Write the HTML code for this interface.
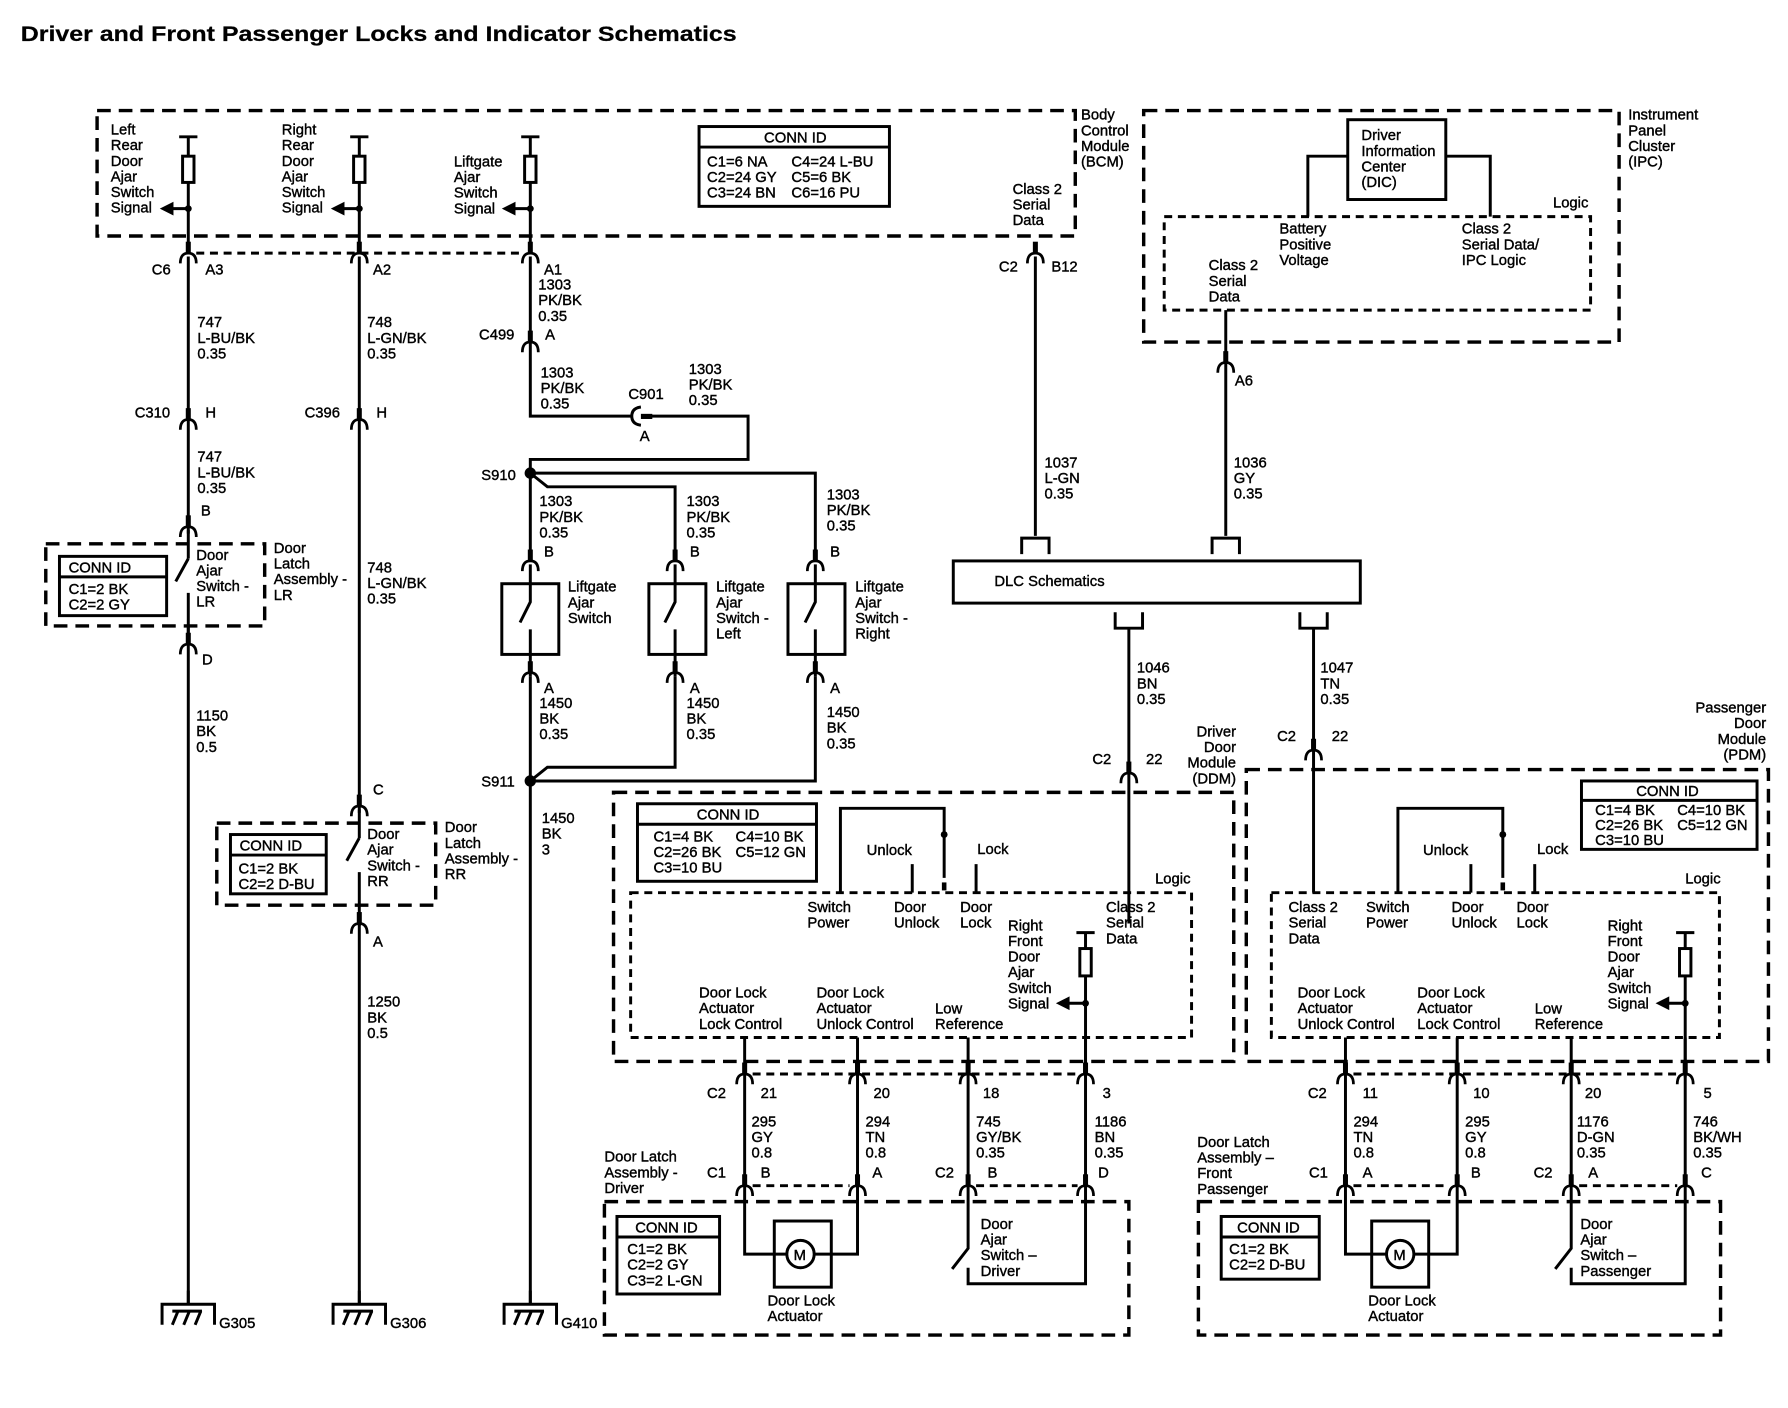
<!DOCTYPE html>
<html><head><meta charset="utf-8">
<style>
html,body{margin:0;padding:0;background:#fff;}
svg{display:block;}
text{font-family:"Liberation Sans",sans-serif;font-size:13px;fill:#000;stroke:#000;stroke-width:0.35;}
.t{font-size:19px;font-weight:bold;stroke-width:0.2;}
.w{fill:none;stroke:#000;stroke-width:2.6;}
.d{fill:none;stroke:#000;stroke-width:3;stroke-dasharray:12 7;}
.dd{fill:none;stroke:#000;stroke-width:2.6;stroke-dasharray:7 5;}
.b{fill:#fff;stroke:#000;stroke-width:2.6;}
</style></head><body>
<svg width="1788" height="1408" viewBox="0 0 1568 1235" xmlns="http://www.w3.org/2000/svg">
<defs>
<g id="cn"><path d="M-7,6 Q-7,-3 0,-3 Q7,-3 7,6" fill="none" stroke="#000" stroke-width="2.4"/><rect x="-2.2" y="-13" width="4.4" height="11" fill="#000"/></g>
<g id="gnd"><path d="M-23,20 V2 H23 V20" fill="none" stroke="#000" stroke-width="2.6"/><path d="M0,-10 V2 M-14,20 L-9,8 M-4,20 L1,8 M6,20 L11,8 M-14,8 H12" fill="none" stroke="#000" stroke-width="2.6"/></g>
<g id="bk"><path d="M-12,14 V0 H12 V14" fill="none" stroke="#000" stroke-width="2.6"/></g>
<g id="bku"><path d="M-12,-6 V8 H12 V-6" fill="none" stroke="#000" stroke-width="2.6"/></g>
</defs>
<text class="t" x="18" y="36" textLength="628" lengthAdjust="spacingAndGlyphs">Driver and Front Passenger Locks and Indicator Schematics</text>

<!-- BCM -->
<rect class="d" x="85" y="97" width="858" height="110"/>
<text x="948" y="105"><tspan x="948" dy="0">Body</tspan><tspan x="948" dy="13.7">Control</tspan><tspan x="948" dy="13.7">Module</tspan><tspan x="948" dy="13.7">(BCM)</tspan></text>
<g class="w">
<path d="M157,120 H173 M165,120 V137 M165,160 V222"/>
<path d="M307,120 H323 M315,120 V137 M315,160 V222"/>
<path d="M457,120 H473 M465,120 V137 M465,160 V222"/>
<path d="M165,183 H150 M315,183 H300 M465,183 H450"/>
</g>
<rect class="b" x="160" y="137" width="10" height="23"/><rect class="b" x="310" y="137" width="10" height="23"/><rect class="b" x="460" y="137" width="10" height="23"/>
<path d="M140,183 L152,177 V189Z M290,183 L302,177 V189Z M440,183 L452,177 V189Z"/>
<circle cx="165" cy="183" r="3"/><circle cx="315" cy="183" r="3"/><circle cx="465" cy="183" r="3"/>
<text x="97" y="118"><tspan x="97">Left</tspan><tspan x="97" dy="13.7">Rear</tspan><tspan x="97" dy="13.7">Door</tspan><tspan x="97" dy="13.7">Ajar</tspan><tspan x="97" dy="13.7">Switch</tspan><tspan x="97" dy="13.7">Signal</tspan></text>
<text x="247" y="118"><tspan x="247">Right</tspan><tspan x="247" dy="13.7">Rear</tspan><tspan x="247" dy="13.7">Door</tspan><tspan x="247" dy="13.7">Ajar</tspan><tspan x="247" dy="13.7">Switch</tspan><tspan x="247" dy="13.7">Signal</tspan></text>
<text x="398" y="146"><tspan x="398">Liftgate</tspan><tspan x="398" dy="13.7">Ajar</tspan><tspan x="398" dy="13.7">Switch</tspan><tspan x="398" dy="13.7">Signal</tspan></text>
<rect class="b" x="613" y="111" width="167" height="70"/><path class="w" d="M613,129 H780"/>
<text x="670" y="125">CONN ID</text>
<text x="620" y="146"><tspan x="620">C1=6 NA</tspan><tspan x="620" dy="13.7">C2=24 GY</tspan><tspan x="620" dy="13.7">C3=24 BN</tspan></text>
<text x="694" y="146"><tspan x="694">C4=24 L-BU</tspan><tspan x="694" dy="13.7">C5=6 BK</tspan><tspan x="694" dy="13.7">C6=16 PU</tspan></text>
<text x="888" y="170"><tspan x="888">Class 2</tspan><tspan x="888" dy="13.7">Serial</tspan><tspan x="888" dy="13.7">Data</tspan></text>

<!-- C6 -->
<path class="dd" d="M172,222 H458"/>
<use href="#cn" x="165" y="225"/><use href="#cn" x="315" y="225"/><use href="#cn" x="465" y="225"/><use href="#cn" x="908" y="225"/>
<text x="133" y="241">C6</text><text x="180" y="241">A3</text><text x="327" y="241">A2</text><text x="477" y="241">A1</text>
<text x="876" y="238">C2</text><text x="922" y="238">B12</text>

<!-- wire 165 -->
<path class="w" d="M165,225 V1144"/>
<text x="173" y="287"><tspan x="173">747</tspan><tspan x="173" dy="13.7">L-BU/BK</tspan><tspan x="173" dy="13.7">0.35</tspan></text>
<use href="#cn" x="165" y="371"/><text x="118" y="366">C310</text><text x="180" y="366">H</text>
<text x="173" y="405"><tspan x="173">747</tspan><tspan x="173" dy="13.7">L-BU/BK</tspan><tspan x="173" dy="13.7">0.35</tspan></text>
<text x="176" y="452">B</text>
<rect x="158" y="468" width="14" height="80" fill="#fff"/>
<use href="#cn" x="165" y="465"/>
<path class="w" d="M165,465 V490 M165,490 L154,510 M165,520 V565"/>
<rect class="d" x="40" y="477" width="192" height="72"/>
<rect class="b" x="52" y="488" width="94" height="52"/><path class="w" d="M52,506 H146"/>
<text x="60" y="502">CONN ID</text>
<text x="60" y="521"><tspan x="60">C1=2 BK</tspan><tspan x="60" dy="13.7">C2=2 GY</tspan></text>
<text x="172" y="491"><tspan x="172">Door</tspan><tspan x="172" dy="13.7">Ajar</tspan><tspan x="172" dy="13.7">Switch -</tspan><tspan x="172" dy="13.7">LR</tspan></text>
<text x="240" y="485"><tspan x="240">Door</tspan><tspan x="240" dy="13.7">Latch</tspan><tspan x="240" dy="13.7">Assembly -</tspan><tspan x="240" dy="13.7">LR</tspan></text>
<use href="#cn" x="165" y="568"/><text x="177" y="583">D</text>
<text x="172" y="632"><tspan x="172">1150</tspan><tspan x="172" dy="13.7">BK</tspan><tspan x="172" dy="13.7">0.5</tspan></text>
<use href="#gnd" x="165" y="1142"/><text x="192" y="1165">G305</text>

<!-- wire 315 -->
<path class="w" d="M315,225 V1144"/>
<text x="322" y="287"><tspan x="322">748</tspan><tspan x="322" dy="13.7">L-GN/BK</tspan><tspan x="322" dy="13.7">0.35</tspan></text>
<use href="#cn" x="315" y="371"/><text x="267" y="366">C396</text><text x="330" y="366">H</text>
<text x="322" y="502"><tspan x="322">748</tspan><tspan x="322" dy="13.7">L-GN/BK</tspan><tspan x="322" dy="13.7">0.35</tspan></text>
<text x="327" y="697">C</text>
<rect x="308" y="713" width="14" height="90" fill="#fff"/>
<use href="#cn" x="315" y="710"/>
<path class="w" d="M315,710 V735 M315,735 L304,755 M315,765 V812"/>
<rect class="d" x="190" y="722" width="192" height="72"/>
<rect class="b" x="202" y="732" width="84" height="52"/><path class="w" d="M202,750 H286"/>
<text x="210" y="746">CONN ID</text>
<text x="209" y="766"><tspan x="209">C1=2 BK</tspan><tspan x="209" dy="13.7">C2=2 D-BU</tspan></text>
<text x="322" y="736"><tspan x="322">Door</tspan><tspan x="322" dy="13.7">Ajar</tspan><tspan x="322" dy="13.7">Switch -</tspan><tspan x="322" dy="13.7">RR</tspan></text>
<text x="390" y="730"><tspan x="390">Door</tspan><tspan x="390" dy="13.7">Latch</tspan><tspan x="390" dy="13.7">Assembly -</tspan><tspan x="390" dy="13.7">RR</tspan></text>
<use href="#cn" x="315" y="813"/><text x="327" y="830">A</text>
<text x="322" y="883"><tspan x="322">1250</tspan><tspan x="322" dy="13.7">BK</tspan><tspan x="322" dy="13.7">0.5</tspan></text>
<use href="#gnd" x="315" y="1142"/><text x="342" y="1165">G306</text>

<!-- wire 465 -->
<text x="472" y="254"><tspan x="472">1303</tspan><tspan x="472" dy="13.7">PK/BK</tspan><tspan x="472" dy="13.7">0.35</tspan></text>
<path class="w" d="M465,225 V365 H553 M570,365 H656 V403 H465 V415 M465,415 H715 V492 M465,415 L480,427 H592 V492 M465,415 V492"/>
<use href="#cn" x="465" y="303"/><text x="420" y="298">C499</text><text x="478" y="298">A</text>
<text x="474" y="331"><tspan x="474">1303</tspan><tspan x="474" dy="13.7">PK/BK</tspan><tspan x="474" dy="13.7">0.35</tspan></text>
<path d="M562,357 Q554,358 554,365 Q554,372 562,373" fill="none" stroke="#000" stroke-width="2.6"/><rect x="562" y="363" width="10" height="4.5"/>
<text x="551" y="350">C901</text><text x="561" y="387">A</text>
<text x="604" y="328"><tspan x="604">1303</tspan><tspan x="604" dy="13.7">PK/BK</tspan><tspan x="604" dy="13.7">0.35</tspan></text>
<circle cx="465" cy="415" r="5"/><text x="422" y="421">S910</text>
<text x="473" y="444"><tspan x="473">1303</tspan><tspan x="473" dy="13.7">PK/BK</tspan><tspan x="473" dy="13.7">0.35</tspan></text>
<text x="602" y="444"><tspan x="602">1303</tspan><tspan x="602" dy="13.7">PK/BK</tspan><tspan x="602" dy="13.7">0.35</tspan></text>
<text x="725" y="438"><tspan x="725">1303</tspan><tspan x="725" dy="13.7">PK/BK</tspan><tspan x="725" dy="13.7">0.35</tspan></text>
<use href="#cn" x="465" y="495"/><use href="#cn" x="592" y="495"/><use href="#cn" x="715" y="495"/>
<text x="477" y="488">B</text><text x="605" y="488">B</text><text x="728" y="488">B</text>
<rect class="b" x="440" y="512" width="50" height="62"/><rect class="b" x="569" y="512" width="50" height="62"/><rect class="b" x="691" y="512" width="50" height="62"/>
<path class="w" d="M465,495 V528 L456,546 M465,552 V593 M592,495 V528 L583,546 M592,552 V593 M715,495 V528 L706,546 M715,552 V593"/>
<text x="498" y="519"><tspan x="498">Liftgate</tspan><tspan x="498" dy="13.7">Ajar</tspan><tspan x="498" dy="13.7">Switch</tspan></text>
<text x="628" y="519"><tspan x="628">Liftgate</tspan><tspan x="628" dy="13.7">Ajar</tspan><tspan x="628" dy="13.7">Switch -</tspan><tspan x="628" dy="13.7">Left</tspan></text>
<text x="750" y="519"><tspan x="750">Liftgate</tspan><tspan x="750" dy="13.7">Ajar</tspan><tspan x="750" dy="13.7">Switch -</tspan><tspan x="750" dy="13.7">Right</tspan></text>
<use href="#cn" x="465" y="593"/><use href="#cn" x="592" y="593"/><use href="#cn" x="715" y="593"/>
<text x="477" y="608">A</text><text x="605" y="608">A</text><text x="728" y="608">A</text>
<text x="473" y="621"><tspan x="473">1450</tspan><tspan x="473" dy="13.7">BK</tspan><tspan x="473" dy="13.7">0.35</tspan></text>
<text x="602" y="621"><tspan x="602">1450</tspan><tspan x="602" dy="13.7">BK</tspan><tspan x="602" dy="13.7">0.35</tspan></text>
<text x="725" y="629"><tspan x="725">1450</tspan><tspan x="725" dy="13.7">BK</tspan><tspan x="725" dy="13.7">0.35</tspan></text>
<path class="w" d="M465,593 V1144 M592,593 V673 H480 L465,685 M715,593 V685 H465"/>
<circle cx="465" cy="685" r="5"/><text x="422" y="690">S911</text>
<text x="475" y="722"><tspan x="475">1450</tspan><tspan x="475" dy="13.7">BK</tspan><tspan x="475" dy="13.7">3</tspan></text>
<use href="#gnd" x="465" y="1142"/><text x="492" y="1165">G410</text>

<!-- IPC -->
<rect class="d" x="1003" y="97" width="417" height="203"/>
<text x="1428" y="105"><tspan x="1428">Instrument</tspan><tspan x="1428" dy="13.7">Panel</tspan><tspan x="1428" dy="13.7">Cluster</tspan><tspan x="1428" dy="13.7">(IPC)</tspan></text>
<rect class="b" x="1182" y="105" width="86" height="70"/>
<text x="1194" y="123"><tspan x="1194">Driver</tspan><tspan x="1194" dy="13.7">Information</tspan><tspan x="1194" dy="13.7">Center</tspan><tspan x="1194" dy="13.7">(DIC)</tspan></text>
<path class="w" d="M1182,137 H1147 V190 M1268,137 H1307 V190"/>
<rect class="dd" x="1021" y="190" width="374" height="82"/>
<text x="1362" y="182">Logic</text>
<text x="1122" y="205"><tspan x="1122">Battery</tspan><tspan x="1122" dy="13.7">Positive</tspan><tspan x="1122" dy="13.7">Voltage</tspan></text>
<text x="1282" y="205"><tspan x="1282">Class 2</tspan><tspan x="1282" dy="13.7">Serial Data/</tspan><tspan x="1282" dy="13.7">IPC Logic</tspan></text>
<text x="1060" y="237"><tspan x="1060">Class 2</tspan><tspan x="1060" dy="13.7">Serial</tspan><tspan x="1060" dy="13.7">Data</tspan></text>
<path class="w" d="M1075,272 V470 M908,225 V470"/>
<use href="#cn" x="1075" y="321"/><text x="1083" y="338">A6</text>
<text x="916" y="410"><tspan x="916">1037</tspan><tspan x="916" dy="13.7">L-GN</tspan><tspan x="916" dy="13.7">0.35</tspan></text>
<text x="1082" y="410"><tspan x="1082">1036</tspan><tspan x="1082" dy="13.7">GY</tspan><tspan x="1082" dy="13.7">0.35</tspan></text>
<use href="#bk" x="908" y="472"/><use href="#bk" x="1075" y="472"/>
<rect class="b" x="836" y="492" width="357" height="37"/>
<text x="872" y="514">DLC Schematics</text>
<use href="#bku" x="990" y="543"/><use href="#bku" x="1152" y="543"/>
<path class="w" d="M990,551 V810 M1152,551 V783"/>
<text x="997" y="590"><tspan x="997">1046</tspan><tspan x="997" dy="13.7">BN</tspan><tspan x="997" dy="13.7">0.35</tspan></text>
<text x="1158" y="590"><tspan x="1158">1047</tspan><tspan x="1158" dy="13.7">TN</tspan><tspan x="1158" dy="13.7">0.35</tspan></text>
<use href="#cn" x="990" y="681"/><text x="958" y="670">C2</text><text x="1005" y="670">22</text>
<use href="#cn" x="1152" y="661"/><text x="1120" y="650">C2</text><text x="1168" y="650">22</text>

<!-- DDM -->
<rect class="d" x="538" y="695" width="544" height="236"/>
<text x="1084" y="646" text-anchor="end"><tspan x="1084">Driver</tspan><tspan x="1084" dy="13.7">Door</tspan><tspan x="1084" dy="13.7">Module</tspan><tspan x="1084" dy="13.7">(DDM)</tspan></text>
<rect class="b" x="559" y="705" width="157" height="68"/><path class="w" d="M559,723 H716"/>
<text x="611" y="719">CONN ID</text>
<text x="573" y="738"><tspan x="573">C1=4 BK</tspan><tspan x="573" dy="13.7">C2=26 BK</tspan><tspan x="573" dy="13.7">C3=10 BU</tspan></text>
<text x="645" y="738"><tspan x="645">C4=10 BK</tspan><tspan x="645" dy="13.7">C5=12 GN</tspan></text>
<rect class="dd" x="553" y="783" width="492" height="127"/>
<text x="1013" y="775">Logic</text>
<path class="w" d="M737,783 V709 H828 V770 M800,783 V758 M856,783 V758"/>
<rect x="826" y="774" width="4" height="7"/><circle cx="828" cy="732" r="3"/>
<text x="760" y="750">Unlock</text><text x="857" y="749">Lock</text>
<text x="708" y="800"><tspan x="708">Switch</tspan><tspan x="708" dy="13.7">Power</tspan></text>
<text x="784" y="800"><tspan x="784">Door</tspan><tspan x="784" dy="13.7">Unlock</tspan></text>
<text x="842" y="800"><tspan x="842">Door</tspan><tspan x="842" dy="13.7">Lock</tspan></text>
<text x="970" y="800"><tspan x="970">Class 2</tspan><tspan x="970" dy="13.7">Serial</tspan><tspan x="970" dy="13.7">Data</tspan></text>
<text x="884" y="816"><tspan x="884">Right</tspan><tspan x="884" dy="13.7">Front</tspan><tspan x="884" dy="13.7">Door</tspan><tspan x="884" dy="13.7">Ajar</tspan><tspan x="884" dy="13.7">Switch</tspan><tspan x="884" dy="13.7">Signal</tspan></text>
<path class="w" d="M944,818 H960 M952,818 V832 M952,856 V945 M952,880 H937"/>
<rect class="b" x="947" y="832" width="10" height="24"/><path d="M926,880 L938,874 V886Z"/><circle cx="952" cy="880" r="3"/>
<text x="613" y="875"><tspan x="613">Door Lock</tspan><tspan x="613" dy="13.7">Actuator</tspan><tspan x="613" dy="13.7">Lock Control</tspan></text>
<text x="716" y="875"><tspan x="716">Door Lock</tspan><tspan x="716" dy="13.7">Actuator</tspan><tspan x="716" dy="13.7">Unlock Control</tspan></text>
<text x="820" y="889"><tspan x="820">Low</tspan><tspan x="820" dy="13.7">Reference</tspan></text>
<path class="w" d="M653,910 V1100 H679 M752,910 V1100 H729 M849,910 V1095 L835,1113 M849,1112 V1126 H952 V910"/>
<path class="dd" d="M660,942 H945"/>
<use href="#cn" x="653" y="945"/><use href="#cn" x="752" y="945"/><use href="#cn" x="849" y="945"/><use href="#cn" x="952" y="945"/>
<text x="620" y="963">C2</text><text x="667" y="963">21</text><text x="766" y="963">20</text><text x="862" y="963">18</text><text x="967" y="963">3</text>
<text x="659" y="988"><tspan x="659">295</tspan><tspan x="659" dy="13.7">GY</tspan><tspan x="659" dy="13.7">0.8</tspan></text>
<text x="759" y="988"><tspan x="759">294</tspan><tspan x="759" dy="13.7">TN</tspan><tspan x="759" dy="13.7">0.8</tspan></text>
<text x="856" y="988"><tspan x="856">745</tspan><tspan x="856" dy="13.7">GY/BK</tspan><tspan x="856" dy="13.7">0.35</tspan></text>
<text x="960" y="988"><tspan x="960">1186</tspan><tspan x="960" dy="13.7">BN</tspan><tspan x="960" dy="13.7">0.35</tspan></text>
<path class="dd" d="M660,1040 H745 M856,1040 H945"/>
<use href="#cn" x="653" y="1043"/><use href="#cn" x="752" y="1043"/><use href="#cn" x="849" y="1043"/><use href="#cn" x="952" y="1043"/>
<text x="620" y="1033">C1</text><text x="667" y="1033">B</text><text x="765" y="1033">A</text><text x="820" y="1033">C2</text><text x="866" y="1033">B</text><text x="963" y="1033">D</text>
<rect class="d" x="530" y="1054" width="460" height="117"/>
<text x="530" y="1019"><tspan x="530">Door Latch</tspan><tspan x="530" dy="13.7">Assembly -</tspan><tspan x="530" dy="13.7">Driver</tspan></text>
<rect class="b" x="541" y="1067" width="90" height="68"/><path class="w" d="M541,1085 H631"/>
<text x="557" y="1081">CONN ID</text>
<text x="550" y="1100"><tspan x="550">C1=2 BK</tspan><tspan x="550" dy="13.7">C2=2 GY</tspan><tspan x="550" dy="13.7">C3=2 L-GN</tspan></text>
<rect class="b" x="679" y="1071" width="50" height="58"/>
<path class="w" d="M679,1100 H729"/><circle class="b" cx="702" cy="1100" r="12"/>
<text x="696" y="1105">M</text>
<text x="673" y="1145"><tspan x="673">Door Lock</tspan><tspan x="673" dy="13.7">Actuator</tspan></text>
<text x="860" y="1078"><tspan x="860">Door</tspan><tspan x="860" dy="13.7">Ajar</tspan><tspan x="860" dy="13.7">Switch –</tspan><tspan x="860" dy="13.7">Driver</tspan></text>

<!-- PDM -->
<rect class="d" x="1093" y="675" width="458" height="256"/>
<text x="1549" y="625" text-anchor="end"><tspan x="1549">Passenger</tspan><tspan x="1549" dy="13.7">Door</tspan><tspan x="1549" dy="13.7">Module</tspan><tspan x="1549" dy="13.7">(PDM)</tspan></text>
<rect class="b" x="1387" y="685" width="154" height="60"/><path class="w" d="M1387,702 H1541"/>
<text x="1435" y="698">CONN ID</text>
<text x="1399" y="715"><tspan x="1399">C1=4 BK</tspan><tspan x="1399" dy="13">C2=26 BK</tspan><tspan x="1399" dy="13">C3=10 BU</tspan></text>
<text x="1471" y="715"><tspan x="1471">C4=10 BK</tspan><tspan x="1471" dy="13">C5=12 GN</tspan></text>
<rect class="dd" x="1115" y="783" width="393" height="127"/>
<text x="1478" y="775">Logic</text>
<path class="w" d="M1226,783 V709 H1318 V770 M1290,783 V758 M1346,783 V758"/>
<rect x="1316" y="774" width="4" height="7"/><circle cx="1318" cy="732" r="3"/>
<text x="1248" y="750">Unlock</text><text x="1348" y="749">Lock</text>
<text x="1130" y="800"><tspan x="1130">Class 2</tspan><tspan x="1130" dy="13.7">Serial</tspan><tspan x="1130" dy="13.7">Data</tspan></text>
<text x="1198" y="800"><tspan x="1198">Switch</tspan><tspan x="1198" dy="13.7">Power</tspan></text>
<text x="1273" y="800"><tspan x="1273">Door</tspan><tspan x="1273" dy="13.7">Unlock</tspan></text>
<text x="1330" y="800"><tspan x="1330">Door</tspan><tspan x="1330" dy="13.7">Lock</tspan></text>
<text x="1410" y="816"><tspan x="1410">Right</tspan><tspan x="1410" dy="13.7">Front</tspan><tspan x="1410" dy="13.7">Door</tspan><tspan x="1410" dy="13.7">Ajar</tspan><tspan x="1410" dy="13.7">Switch</tspan><tspan x="1410" dy="13.7">Signal</tspan></text>
<path class="w" d="M1470,818 H1486 M1478,818 V832 M1478,856 V945 M1478,880 H1463"/>
<rect class="b" x="1473" y="832" width="10" height="24"/><path d="M1452,880 L1464,874 V886Z"/><circle cx="1478" cy="880" r="3"/>
<text x="1138" y="875"><tspan x="1138">Door Lock</tspan><tspan x="1138" dy="13.7">Actuator</tspan><tspan x="1138" dy="13.7">Unlock Control</tspan></text>
<text x="1243" y="875"><tspan x="1243">Door Lock</tspan><tspan x="1243" dy="13.7">Actuator</tspan><tspan x="1243" dy="13.7">Lock Control</tspan></text>
<text x="1346" y="889"><tspan x="1346">Low</tspan><tspan x="1346" dy="13.7">Reference</tspan></text>
<path class="w" d="M1180,910 V1100 H1203 M1278,910 V1100 H1253 M1378,910 V1095 L1364,1113 M1378,1112 V1126 H1478 V910"/>
<path class="dd" d="M1187,942 H1471"/>
<use href="#cn" x="1180" y="945"/><use href="#cn" x="1278" y="945"/><use href="#cn" x="1378" y="945"/><use href="#cn" x="1478" y="945"/>
<text x="1147" y="963">C2</text><text x="1195" y="963">11</text><text x="1292" y="963">10</text><text x="1390" y="963">20</text><text x="1494" y="963">5</text>
<text x="1187" y="988"><tspan x="1187">294</tspan><tspan x="1187" dy="13.7">TN</tspan><tspan x="1187" dy="13.7">0.8</tspan></text>
<text x="1285" y="988"><tspan x="1285">295</tspan><tspan x="1285" dy="13.7">GY</tspan><tspan x="1285" dy="13.7">0.8</tspan></text>
<text x="1383" y="988"><tspan x="1383">1176</tspan><tspan x="1383" dy="13.7">D-GN</tspan><tspan x="1383" dy="13.7">0.35</tspan></text>
<text x="1485" y="988"><tspan x="1485">746</tspan><tspan x="1485" dy="13.7">BK/WH</tspan><tspan x="1485" dy="13.7">0.35</tspan></text>
<path class="dd" d="M1187,1040 H1271 M1385,1040 H1471"/>
<use href="#cn" x="1180" y="1043"/><use href="#cn" x="1278" y="1043"/><use href="#cn" x="1378" y="1043"/><use href="#cn" x="1478" y="1043"/>
<text x="1148" y="1033">C1</text><text x="1195" y="1033">A</text><text x="1290" y="1033">B</text><text x="1345" y="1033">C2</text><text x="1393" y="1033">A</text><text x="1492" y="1033">C</text>
<rect class="d" x="1051" y="1054" width="458" height="117"/>
<text x="1050" y="1006"><tspan x="1050">Door Latch</tspan><tspan x="1050" dy="13.7">Assembly –</tspan><tspan x="1050" dy="13.7">Front</tspan><tspan x="1050" dy="13.7">Passenger</tspan></text>
<rect class="b" x="1071" y="1067" width="86" height="55"/><path class="w" d="M1071,1085 H1157"/>
<text x="1085" y="1081">CONN ID</text>
<text x="1078" y="1100"><tspan x="1078">C1=2 BK</tspan><tspan x="1078" dy="13.7">C2=2 D-BU</tspan></text>
<rect class="b" x="1203" y="1071" width="50" height="58"/>
<path class="w" d="M1203,1100 H1253"/><circle class="b" cx="1228" cy="1100" r="12"/>
<text x="1222" y="1105">M</text>
<text x="1200" y="1145"><tspan x="1200">Door Lock</tspan><tspan x="1200" dy="13.7">Actuator</tspan></text>
<text x="1386" y="1078"><tspan x="1386">Door</tspan><tspan x="1386" dy="13.7">Ajar</tspan><tspan x="1386" dy="13.7">Switch –</tspan><tspan x="1386" dy="13.7">Passenger</tspan></text>
</svg>
</body></html>
